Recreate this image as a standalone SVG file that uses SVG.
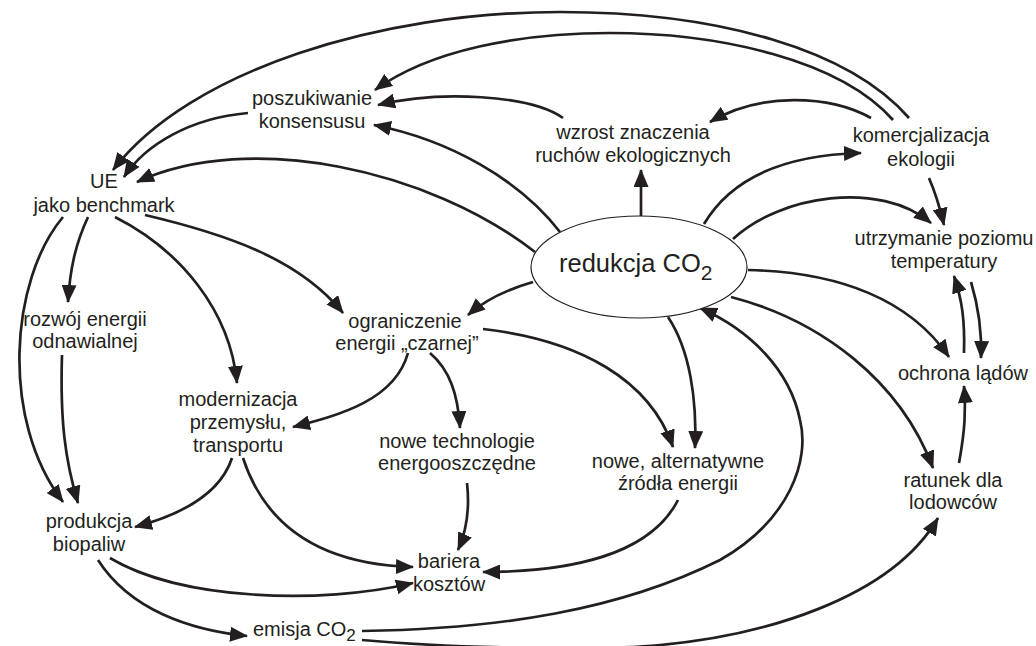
<svg xmlns="http://www.w3.org/2000/svg" width="1036" height="646" viewBox="0 0 1036 646">
<defs>
<marker id="ah" viewBox="0 0 18 15" refX="17" refY="7.5" markerWidth="18" markerHeight="15" markerUnits="userSpaceOnUse" orient="auto">
<path d="M0,0 L18,7.5 L0,15 z" fill="#231f20"/>
</marker>
<style>
.lbl{font-family:"Liberation Sans",Arial,sans-serif;font-size:20px;fill:#231f20;text-anchor:middle}
.c path{fill:none;stroke:#231f20;stroke-width:2.7;marker-end:url(#ah)}
</style>
</defs>
<rect width="1036" height="646" fill="#ffffff"/>
<g id="connectors" class="c">
<path d="M560,232 C520,180 450,140 374,125"/>
<path d="M535,252 C430,170 250,130 137,182"/>
<path d="M563,118 C530,95 440,90 378,105"/>
<path d="M248,113 C190,118 145,145 124,177"/>
<path d="M909,118 C850,50 720,12 560,12 C380,12 190,70 113,170"/>
<path d="M893,120 C840,60 720,33 610,33 C520,33 430,50 375,90"/>
<path d="M871,118 C830,95 760,92 710,122"/>
<path d="M641,216 L641,170"/>
<path d="M704,224 C730,180 780,155 861,153"/>
<path d="M733,239 C780,195 880,180 931,223"/>
<path d="M929,178 C935,192 940,208 944,225"/>
<path d="M748,270 C840,272 910,300 949,357"/>
<path d="M971,282 C978,305 982,330 981,358"/>
<path d="M964,353 C965,320 962,300 954,276"/>
<path d="M731,297 C820,320 900,380 933,468"/>
<path d="M959,463 C965,430 966,410 964,386"/>
<path d="M362,640 C450,648 600,651 660,645 C760,636 890,600 938,518"/>
<path d="M362,631 C500,629 620,610 720,560 C790,520 810,460 800,420 C790,370 750,330 700,308"/>
<path d="M668,317 C690,350 697,400 695,448"/>
<path d="M483,329 C580,340 650,380 673,447"/>
<path d="M533,282 C505,290 485,300 468,315"/>
<path d="M145,215 C230,235 300,260 343,313"/>
<path d="M115,217 C180,250 230,310 237,383"/>
<path d="M88,217 C75,245 70,270 68,302"/>
<path d="M63,217 C10,280 0,420 63,502"/>
<path d="M62,355 C60,420 65,460 78,503"/>
<path d="M408,353 C395,400 340,415 293,427"/>
<path d="M430,353 C450,370 458,395 460,428"/>
<path d="M232,458 C220,495 180,515 135,527"/>
<path d="M243,458 C270,540 340,565 413,567"/>
<path d="M110,558 C180,600 320,605 413,583"/>
<path d="M98,560 C130,610 190,630 247,636"/>
<path d="M467,483 C470,510 467,530 458,550"/>
<path d="M678,500 C650,555 570,572 483,572"/>
</g>
<g id="redukcja">
<ellipse cx="639" cy="267" rx="108" ry="51" fill="#ffffff" stroke="#231f20" stroke-width="1.2"/>
<text x="559" y="272" font-family="Liberation Sans, Arial, sans-serif" font-size="25.5" fill="#231f20">redukcja CO<tspan dy="8" font-size="21">2</tspan></text>
</g>
<g id="poszukiwanie"><text class="lbl" x="312" y="105">poszukiwanie</text><text class="lbl" x="312" y="128">konsensusu</text></g>
<g id="ue"><text class="lbl" x="104" y="188">UE</text><text class="lbl" x="104" y="212">jako benchmark</text></g>
<g id="wzrost"><text class="lbl" x="633" y="139">wzrost znaczenia</text><text class="lbl" x="633" y="162">ruchów ekologicznych</text></g>
<g id="komercjalizacja"><text class="lbl" x="921" y="142">komercjalizacja</text><text class="lbl" x="921" y="166">ekologii</text></g>
<g id="utrzymanie"><text class="lbl" x="944" y="245">utrzymanie poziomu</text><text class="lbl" x="944" y="268">temperatury</text></g>
<g id="ochrona"><text class="lbl" x="963" y="380">ochrona lądów</text></g>
<g id="ratunek"><text class="lbl" x="953" y="487">ratunek dla</text><text class="lbl" x="953" y="509">lodowców</text></g>
<g id="alternatywne"><text class="lbl" x="678" y="468">nowe, alternatywne</text><text class="lbl" x="678" y="490">źródła energii</text></g>
<g id="technologie"><text class="lbl" x="457" y="448">nowe technologie</text><text class="lbl" x="457" y="470">energooszczędne</text></g>
<g id="bariera"><text class="lbl" x="449" y="568">bariera</text><text class="lbl" x="449" y="591">kosztów</text></g>
<g id="emisja"><text x="253" y="636" font-family="Liberation Sans, Arial, sans-serif" font-size="20" fill="#231f20">emisja CO<tspan dy="5" font-size="17">2</tspan></text></g>
<g id="produkcja"><text class="lbl" x="89" y="528">produkcja</text><text class="lbl" x="89" y="551">biopaliw</text></g>
<g id="modernizacja"><text class="lbl" x="238" y="406">modernizacja</text><text class="lbl" x="238" y="429">przemysłu,</text><text class="lbl" x="238" y="452">transportu</text></g>
<g id="rozwoj"><text class="lbl" x="85" y="326">rozwój energii</text><text class="lbl" x="85" y="348">odnawialnej</text></g>
<g id="ograniczenie"><text class="lbl" x="405" y="328">ograniczenie</text><text class="lbl" x="407" y="350">energii „czarnej”</text></g>
</svg>
